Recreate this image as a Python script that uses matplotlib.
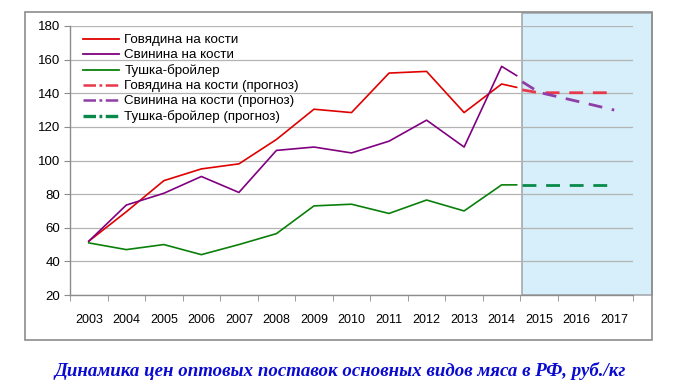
import matplotlib
matplotlib.use("Agg")
import matplotlib.pyplot as plt
from matplotlib.patches import Rectangle
from matplotlib.lines import Line2D

plt.rcParams['font.family'] = ['Liberation Sans', 'DejaVu Sans']
plt.rcParams['lines.scale_dashes'] = False

# ---- data ----
categories = [str(y) for y in range(2003, 2018)]
years_actual = [2003, 2004, 2005, 2006, 2007, 2008, 2009, 2010, 2011, 2012, 2013, 2014, 2014.4]
beef = [52, 69.5, 88, 95, 98, 112.5, 130.5, 128.5, 152, 153, 128.5, 145.5, 143.5]
pork = [52, 73.5, 80.5, 90.5, 81, 106, 108, 104.5, 111.5, 124, 108, 156, 150.5]
broiler = [51, 47, 50, 44, 50, 56.5, 73, 74, 68.5, 76.5, 70, 85.5, 85.5]

years_fc = [2014.55, 2015, 2016, 2017]
beef_fc = [142, 140.3, 140.3, 140.3]
pork_fc = [146.8, 140.5, 135.3, 130]
broiler_fc = [85.5, 85.5, 85.5, 85.5]

labels = ["Говядина на кости", "Свинина на кости", "Тушка-бройлер",
          "Говядина на кости (прогноз)", "Свинина на кости (прогноз)",
          "Тушка-бройлер (прогноз)"]
yticks = [20, 40, 60, 80, 100, 120, 140, 160, 180]
title = "Динамика цен оптовых поставок основных видов мяса в РФ, руб./кг"

W, H = 674, 386
fig = plt.figure(figsize=(W / 100, H / 100), dpi=100)
fig.patch.set_facecolor('white')

def fx(px):
    return px / W

def fy(py):
    return 1 - py / H

# outer frame
fig.patches.append(Rectangle((fx(25), fy(340)), fx(652) - fx(25), fy(12) - fy(340),
                             transform=fig.transFigure, fill=False,
                             edgecolor='#8c8c8c', linewidth=1.2, zorder=0))

ax = fig.add_axes([fx(70), fy(295), fx(633) - fx(70), fy(26) - fy(295)])
ax.set_facecolor('none')
base = 2003
ax.set_xlim(-0.5, len(categories) - 0.5)
ax.set_ylim(20, 180)

# forecast shaded zone
ax.add_patch(Rectangle((2014.55 - base, 20), 3.45, 7.6 + 160, facecolor='#d7eefb',
                       edgecolor='#a4aab0', linewidth=1.2, clip_on=False, zorder=0.5))

ax.set_yticks(yticks)
ax.grid(axis='y', color='#b4b4b4', linewidth=0.9, zorder=1)
ax.set_axisbelow(True)

xa = [y - base for y in years_actual]
xf = [y - base for y in years_fc]
ax.plot(xa, beef, color='#e00000', lw=1.2, zorder=3)
ax.plot(xa, pork, color='#800080', lw=1.2, zorder=3)
ax.plot(xa, broiler, color='#0a800a', lw=1.2, zorder=3)

fc_dash = (0, (10, 7))
ax.plot(xf, beef_fc, color='#e8384c', lw=2.0, linestyle=fc_dash, zorder=3)
ax.plot(xf, pork_fc, color='#8e3ea6', lw=2.0, linestyle=fc_dash, zorder=3)
ax.plot(xf, broiler_fc, color='#0a8a4a', lw=2.0, linestyle=fc_dash, zorder=3)

# axes styling
for s in ['top', 'right']:
    ax.spines[s].set_visible(False)
for s in ['left', 'bottom']:
    ax.spines[s].set_color('#8c8c8c')
    ax.spines[s].set_linewidth(1.0)
    ax.spines[s].set_zorder(4)

ax.set_xticks(range(len(categories)))
ax.set_xticklabels(categories)
ax.set_xticks([i - 0.5 for i in range(len(categories) + 1)], minor=True)
ax.tick_params(axis='x', which='major', length=0, pad=14, labelsize=9, colors='black')
ax.tick_params(axis='x', which='minor', length=4, color='#8c8c8c', direction='out')
ax.tick_params(axis='y', length=4, color='#8c8c8c', pad=3, labelsize=9.5, labelcolor='black')

# legend
dd = (0, (9, 2.5, 2, 2.5))
handles = [Line2D([], [], color='#e00000', lw=1.3),
           Line2D([], [], color='#800080', lw=1.3),
           Line2D([], [], color='#0a800a', lw=1.3),
           Line2D([], [], color='#e8384c', lw=1.8, linestyle=dd),
           Line2D([], [], color='#8e3ea6', lw=1.8, linestyle=dd),
           Line2D([], [], color='#0a8a4a', lw=2.4, linestyle=dd)]
leg = ax.legend(handles, labels, loc='upper left', bbox_to_anchor=(fx(83), fy(34)),
                bbox_transform=fig.transFigure, frameon=False, fontsize=9.6,
                handlelength=2.7, handletextpad=0.4, labelspacing=0.21,
                borderpad=0, borderaxespad=0)

fig.text(fx(340), fy(371), title, ha='center', va='center', color='#0a0ad0',
         fontsize=13.6, fontweight='bold', fontstyle='italic',
         family=['Liberation Serif', 'DejaVu Serif'])

fig.savefig('out.png', dpi=100)
